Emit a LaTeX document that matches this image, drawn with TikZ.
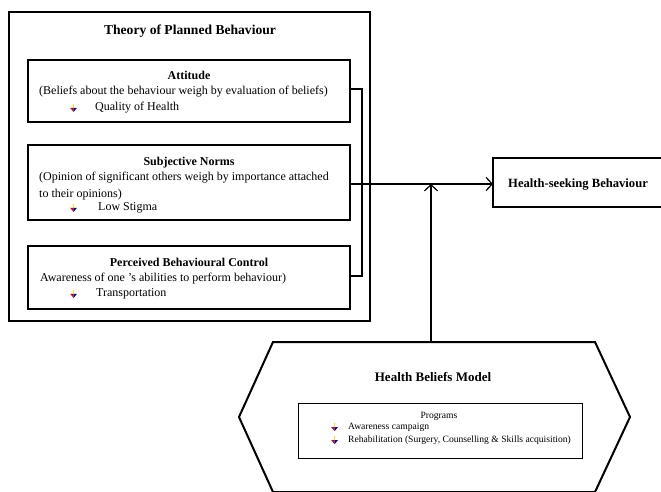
\documentclass[tikz,border=0pt]{standalone}
\usepackage{fontspec}
\setmainfont{Liberation Serif}
\usetikzlibrary{arrows.meta}
\newcommand\wbul{\tikz[baseline=-0.2ex,x=1.3pt,y=1.3pt]{\fill[yellow!85!orange] (-0.7,0.8) rectangle (0.7,3.8);\fill[red!80!black] (-2.6,0.8) -- (0,0.8) -- (0,-2.4) -- cycle;\fill[blue!70!black] (0,0.8) -- (2.6,0.8) -- (0,-2.4) -- cycle;}}

\begin{document}
\begin{tikzpicture}[x=1pt,y=-1pt,
	box/.style={draw, line width=1.6pt, inner sep=0pt},
	txt/.style={anchor=base west, inner sep=0pt, font=\fontsize{12}{14}\selectfont},
	hd/.style={anchor=base, inner sep=0pt, font=\fontsize{12}{14}\selectfont\bfseries},
	small/.style={anchor=base west, inner sep=0pt, font=\fontsize{9.6}{11}\selectfont},
	link/.style={line width=1.2pt},
	tip/.style={-{Straight Barb[length=6pt,width=13pt,line width=1.2pt]}}]
		%%%%% START %%%%%
		\useasboundingbox (0,0) rectangle (661,491);
		
		% Theory of Planned Behaviour
		\draw[line width=2.6pt] (9,12) rectangle (370,321);
		\node[hd, font=\fontsize{13.6}{16}\selectfont\bfseries] (tpbtitle) at (190,34) {Theory of Planned Behaviour};
		
		\node[box, minimum width=322pt, minimum height=62pt] (att) at (189,91) {};
		\node[hd] (atthd) at (189,79) {Attitude};
		\node[txt] (atttxt) at (39,94) {(Beliefs about the behaviour weigh by evaluation of beliefs)};
		\node[txt] (attbul) at (70,110) {\wbul};
		\node[txt] (attpt) at (95,110) {Quality of Health};
		
		\node[box, minimum width=322pt, minimum height=75pt] (sn) at (189,182.5) {};
		\node[hd] (snhd) at (189,165) {Subjective Norms};
		\node[txt] (sntxt) at (39,180) {(Opinion of significant others weigh by importance attached};
		\node[txt] (sntxtb) at (39,197) {to their opinions)};
		\node[txt] (snbul) at (70,210) {\wbul};
		\node[txt] (snpt) at (98,210) {Low Stigma};
		
		\node[box, minimum width=322pt, minimum height=63pt] (pbc) at (189,277.5) {};
		\node[hd] (pbchd) at (189,266) {Perceived Behavioural Control};
		\node[txt] (pbctxt) at (40,281) {Awareness of one ’s abilities to perform behaviour)};
		\node[txt] (pbcbul) at (70,296) {\wbul};
		\node[txt] (pbcpt) at (96,296) {Transportation};
		
		\draw[link, line width=1.6pt] (att.east |- 0,89) -- (362,89) -- (362,276) -- (pbc.east |- 0,276);
		
		% Health-seeking Behaviour
		\draw[box] (493,158) rectangle (680,207);
		\node[txt, font=\fontsize{12.6}{15}\selectfont\bfseries] (hsb) at (508,187) {Health-seeking Behaviour};
		\coordinate (hsbin) at (493,184);
		\coordinate (meet) at (431,184);
		
		% Health Beliefs Model
		\draw[line width=2pt] (273,342) -- (595,342) -- (630,417) -- (595,492) -- (273,492) -- (239,417) -- cycle;
		\coordinate (hbmtop) at (431,342);
		\node[hd, font=\fontsize{13}{15}\selectfont\bfseries] (hbmhd) at (433,381) {Health Beliefs Model};
		\node[draw, line width=0.9pt, minimum width=284pt, minimum height=55pt] (prog) at (440,430.5) {};
		\node[small, anchor=base] (proghd) at (439,418) {Programs};
		\node[small] (progbula) at (331,429) {\wbul};
		\node[small] (progpta) at (348,429) {Awareness campaign};
		\node[small] (progbulb) at (331,442) {\wbul};
		\node[small] (progptb) at (348,442) {Rehabilitation (Surgery, Counselling \& Skills acquisition)};
		
		% arrows
		\draw[link, tip] (sn.east |- hsbin) -- (hsbin);
		\draw[link, tip] (hbmtop) -- (meet);
		
		%%%%% END %%%%%
	\end{tikzpicture}
\end{document}
